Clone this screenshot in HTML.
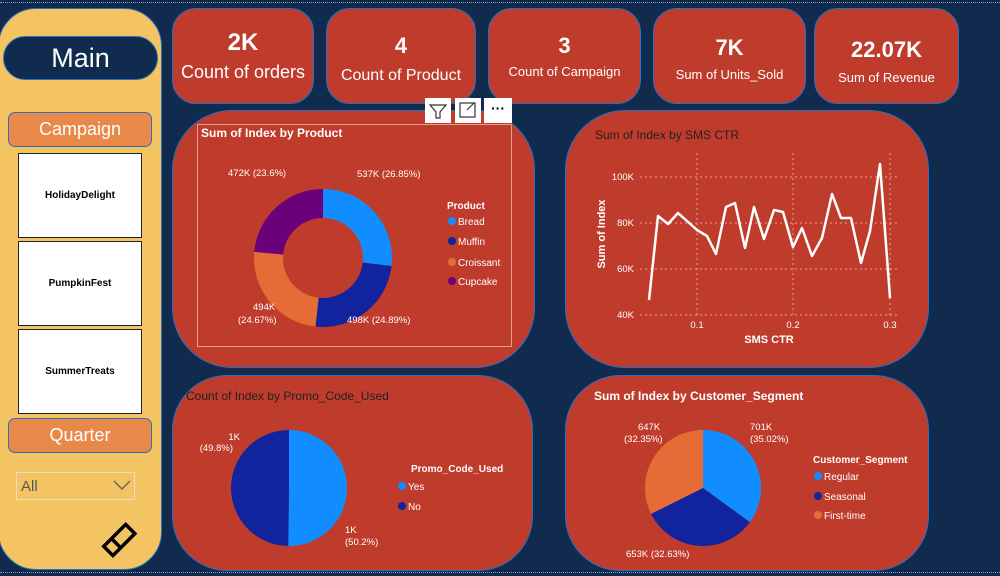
<!DOCTYPE html>
<html><head><meta charset="utf-8">
<style>
*{margin:0;padding:0;box-sizing:border-box}
body{width:1000px;height:576px;background:#112b4e;font-family:"Liberation Sans",sans-serif;position:relative;overflow:hidden}
.a{position:absolute}
.card{position:absolute;background:#bf3b2b;border:1.5px solid #2a6fc0}
.kpi{border-radius:24px;color:#fff;text-align:center}
.kpi .v{position:absolute;left:0;right:0;font-weight:bold}
.kpi .l{position:absolute;left:0;right:0;white-space:nowrap}
.tile{position:absolute;left:18px;width:124px;background:#fff;border:1.5px solid #222;font-size:10px;font-weight:bold;text-align:center;color:#000}
.btn{position:absolute;left:8px;width:144px;height:35px;background:#e8894a;border:1.5px solid #2a6fc0;border-radius:7px;color:#fff;font-size:18px;text-align:center;line-height:33px}
svg text{font-family:"Liberation Sans",sans-serif}
</style></head><body>
<div class="a" style="left:0;top:2px;width:1000px;border-top:1.5px dotted #8a9bb0"></div>
<div class="a" style="left:0;top:572px;width:1000px;border-top:1.5px dotted #8a9bb0"></div>

<div class="a" style="left:-2px;top:8px;width:164px;height:562px;background:#f5c462;border-radius:38px;border:1.5px solid #2a6fc0"></div>
<div class="a" style="left:3px;top:36px;width:155px;height:44px;background:#112b4e;border:1.5px solid #2a6fc0;border-radius:22px;color:#fff;font-size:27px;text-align:center;line-height:42px">Main</div>
<div class="btn" style="top:112px">Campaign</div>
<div class="tile" style="top:153px;height:85px;line-height:83px">HolidayDelight</div>
<div class="tile" style="top:241px;height:85px;line-height:83px">PumpkinFest</div>
<div class="tile" style="top:329px;height:85px;line-height:83px">SummerTreats</div>
<div class="btn" style="top:418px">Quarter</div>
<div class="a" style="left:16px;top:472px;width:119px;height:28px;border:1.5px solid #e8dfc8;color:#555;font-size:15px;line-height:28px;padding-left:4px">All</div>
<svg class="a" style="left:112px;top:478px" width="22" height="14"><polyline points="2,3 10,11 18,3" fill="none" stroke="#666" stroke-width="1.5"/></svg>
<svg class="a" style="left:100px;top:520px" width="40" height="40"><g transform="rotate(-45 20 20)" fill="none" stroke="#000" stroke-width="3.5"><rect x="4" y="13" width="31" height="13"/><line x1="15" y1="13" x2="15" y2="26"/></g></svg>

<div class="card kpi" style="left:172px;top:8px;width:142px;height:96px"><div class="v" style="top:20px;font-size:24px">2K</div><div class="l" style="top:53px;font-size:18px">Count of orders</div></div>
<div class="card kpi" style="left:326px;top:8px;width:150px;height:96px"><div class="v" style="top:24px;font-size:22px">4</div><div class="l" style="top:58px;font-size:16px">Count of Product</div></div>
<div class="card kpi" style="left:488px;top:8px;width:153px;height:96px"><div class="v" style="top:24px;font-size:22px">3</div><div class="l" style="top:55px;font-size:13px">Count of Campaign</div></div>
<div class="card kpi" style="left:653px;top:8px;width:153px;height:96px"><div class="v" style="top:26px;font-size:22px">7K</div><div class="l" style="top:58px;font-size:13px">Sum of Units_Sold</div></div>
<div class="card kpi" style="left:814px;top:8px;width:145px;height:96px"><div class="v" style="top:28px;font-size:22px">22.07K</div><div class="l" style="top:61px;font-size:13px">Sum of Revenue</div></div>

<div class="card" style="left:172px;top:110px;width:363px;height:258px;border-radius:60px"></div>
<div class="card" style="left:565px;top:110px;width:364px;height:258px;border-radius:60px"></div>
<div class="card" style="left:172px;top:375px;width:361px;height:196px;border-radius:55px"></div>
<div class="card" style="left:565px;top:375px;width:364px;height:196px;border-radius:55px"></div>

<div class="a" style="left:197px;top:124px;width:315px;height:223px;border:1.5px solid #e0a090"></div>
<div class="a" style="left:425px;top:98px;width:26px;height:25px;background:#fff"></div>
<div class="a" style="left:455px;top:98px;width:26px;height:25px;background:#fff"></div>
<div class="a" style="left:484px;top:98px;width:28px;height:25px;background:#fff;font-size:14px;text-align:center;line-height:20px;font-weight:bold">···</div>

<svg class="a" style="left:0;top:0" width="1000" height="576" id="s">
<g id="pies"></g>
<polygon points="430,105 446,105 440,112 440,118 436,118 436,112" fill="none" stroke="#333" stroke-width="1.2"/>
<rect x="460" y="103" width="15" height="14" fill="none" stroke="#333" stroke-width="1.2"/>
<line x1="467" y1="110" x2="474" y2="103" stroke="#333" stroke-width="1.2"/>

<text x="201" y="137" fill="#fff" font-size="12" font-weight="bold">Sum of Index by Product</text>
<text x="228" y="176" fill="#fff" font-size="9.5">472K (23.6%)</text>
<text x="357" y="177" fill="#fff" font-size="9.5">537K (26.85%)</text>
<text x="253" y="310" fill="#fff" font-size="9.5">494K</text>
<text x="238" y="323" fill="#fff" font-size="9.5">(24.67%)</text>
<text x="347" y="323" fill="#fff" font-size="9.5">498K (24.89%)</text>
<text x="447" y="209" fill="#fff" font-size="10" font-weight="bold">Product</text>
<circle cx="452" cy="221" r="4" fill="#118dff"/><text x="458" y="225" fill="#fff" font-size="10">Bread</text>
<circle cx="452" cy="241" r="4" fill="#12239e"/><text x="458" y="245" fill="#fff" font-size="10">Muffin</text>
<circle cx="452" cy="262" r="4" fill="#e66c37"/><text x="458" y="266" fill="#fff" font-size="10">Croissant</text>
<circle cx="452" cy="281" r="4" fill="#6b007b"/><text x="458" y="285" fill="#fff" font-size="10">Cupcake</text>

<text x="595" y="139" fill="#222" font-size="12">Sum of Index by SMS CTR</text>
<g stroke="#e8a090" stroke-dasharray="2,3" stroke-width="1">
<line x1="640" y1="177" x2="898" y2="177"/><line x1="640" y1="223" x2="898" y2="223"/><line x1="640" y1="269" x2="898" y2="269"/><line x1="640" y1="315" x2="898" y2="315"/>
<line x1="697" y1="153" x2="697" y2="315"/><line x1="793" y1="153" x2="793" y2="315"/><line x1="890" y1="153" x2="890" y2="315"/>
</g>
<g fill="#fff" font-size="9.5" text-anchor="end"><text x="634" y="180">100K</text><text x="634" y="226">80K</text><text x="634" y="272">60K</text><text x="634" y="318">40K</text></g>
<g fill="#fff" font-size="9.5" text-anchor="middle"><text x="697" y="328">0.1</text><text x="793" y="328">0.2</text><text x="890" y="328">0.3</text></g>
<text x="769" y="343" fill="#fff" font-size="11" font-weight="bold" text-anchor="middle">SMS CTR</text>
<text transform="translate(605 234) rotate(-90)" fill="#fff" font-size="11" font-weight="bold" text-anchor="middle">Sum of Index</text>
<polyline fill="none" stroke="#fff" stroke-width="2.5" stroke-linejoin="round" points="649,300 658,216 668,224 678,213 687,221 697,230 707,236 716,254 726,207 735,203 745,248 754,207 764,239 774,210 783,212 793,247 802,228 812,256 822,238 832,194 841,218 851,218 861,263 870,231 880,164 890,298"/>

<text x="186" y="400" fill="#222" font-size="12">Count of Index by Promo_Code_Used</text>
<text x="240" y="440" fill="#fff" font-size="9.5" text-anchor="end">1K</text>
<text x="233" y="451" fill="#fff" font-size="9.5" text-anchor="end">(49.8%)</text>
<text x="345" y="533" fill="#fff" font-size="9.5">1K</text>
<text x="345" y="545" fill="#fff" font-size="9.5">(50.2%)</text>
<text x="411" y="472" fill="#fff" font-size="10" font-weight="bold">Promo_Code_Used</text>
<circle cx="402" cy="486" r="4" fill="#118dff"/><text x="408" y="490" fill="#fff" font-size="10">Yes</text>
<circle cx="402" cy="506" r="4" fill="#12239e"/><text x="408" y="510" fill="#fff" font-size="10">No</text>

<text x="594" y="400" fill="#fff" font-size="12" font-weight="bold">Sum of Index by Customer_Segment</text>
<text x="638" y="430" fill="#fff" font-size="9.5">647K</text>
<text x="624" y="442" fill="#fff" font-size="9.5">(32.35%)</text>
<text x="750" y="430" fill="#fff" font-size="9.5">701K</text>
<text x="750" y="442" fill="#fff" font-size="9.5">(35.02%)</text>
<text x="626" y="557" fill="#fff" font-size="9.5">653K (32.63%)</text>
<text x="813" y="463" fill="#fff" font-size="10" font-weight="bold">Customer_Segment</text>
<circle cx="818" cy="476" r="4" fill="#118dff"/><text x="824" y="480" fill="#fff" font-size="10">Regular</text>
<circle cx="818" cy="496" r="4" fill="#12239e"/><text x="824" y="500" fill="#fff" font-size="10">Seasonal</text>
<circle cx="818" cy="515" r="4" fill="#e66c37"/><text x="824" y="519" fill="#fff" font-size="10">First-time</text>
</svg>
<script>
var s=document.getElementById('pies');
function pt(cx,cy,r,a){return [cx+r*Math.sin(a),cy-r*Math.cos(a)];}
function arc(cx,cy,r,ri,fr,col){var a0=0;fr.forEach(function(f,i){var a1=a0+f*2*Math.PI;var l=(a1-a0)>Math.PI?1:0;var p0=pt(cx,cy,r,a0),p1=pt(cx,cy,r,a1),d;
if(ri>0){var q1=pt(cx,cy,ri,a1),q0=pt(cx,cy,ri,a0);d='M'+p0+' A'+r+','+r+' 0 '+l+' 1 '+p1+' L'+q1+' A'+ri+','+ri+' 0 '+l+' 0 '+q0+' Z';}
else d='M'+cx+','+cy+' L'+p0+' A'+r+','+r+' 0 '+l+' 1 '+p1+' Z';
var e=document.createElementNS('http://www.w3.org/2000/svg','path');e.setAttribute('d',d);e.setAttribute('fill',col[i]);s.appendChild(e);a0=a1;});}
arc(323,258,69,40,[.2685,.2489,.2467,.236],['#118dff','#12239e','#e66c37','#6b007b']);
arc(289,488,58,0,[.502,.498],['#118dff','#12239e']);
arc(703,488,58,0,[.3502,.3263,.3235],['#118dff','#12239e','#e66c37']);
</script>
</body></html>
